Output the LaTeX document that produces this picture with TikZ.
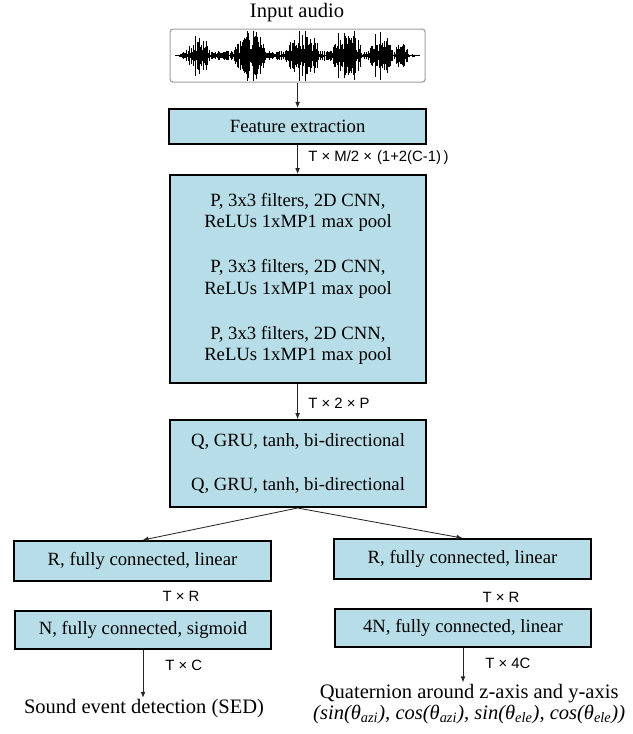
\documentclass[tikz,border=0pt]{standalone}
\usepackage{fontspec}
\setmainfont{Liberation Serif}
\setsansfont{Liberation Sans}
\usetikzlibrary{arrows.meta, positioning}
\definecolor{layerBlue}{HTML}{B7DEE8}
\definecolor{waveGray}{gray}{0.62}

\begin{document}
\begin{tikzpicture}[
        x=1cm,
        y=1cm,
        layer/.style={
            draw=black,
            line width=1.3pt,
            fill=layerBlue,
            minimum width=6.4cm,
            inner sep=0pt,
            align=center,
            font=\fontsize{13.3}{15.3}\selectfont
        },
        waveBox/.style={draw=waveGray, line width=0.8pt, rounded corners=2pt, inner sep=0pt},
        flow/.style={line width=0.6pt, -{Latex[length=1.5mm, width=1.2mm]}, black!85},
        dimText/.style={font=\sffamily\fontsize{10.6}{12}\selectfont, inner sep=0pt},
        outText/.style={font=\fontsize{14.6}{15}\selectfont, align=center, inner sep=1pt},
        wave/.style={line width=0.35pt, black}
    ]
        \useasboundingbox (0,0) rectangle (15.825,-18.35);

        % input signal
        \node[outText] (inlabel) at (7.425,-0.31) {Input audio};
        \node[waveBox, minimum width=6.375cm, minimum height=1.325cm] (audio) at (7.44,-1.39) {};
        \pgfmathsetseed{11}
        \draw[wave, line width=0.8pt] (4.375,-1.39) -- (10.5,-1.39);
        \foreach \x in {176,176.4,...,419} {
            \pgfmathsetmacro{\env}{5*max(0,min(1,(\x-175)/10,(420-\x)/25))
                + 21*max(0,1-((\x-198)/12)^2) + 24*max(0,1-((\x-250)/17)^2)
                + 26*max(0,1-((\x-303)/17)^2) + 25*max(0,1-((\x-347)/15)^2)
                + 21*max(0,1-((\x-381)/12)^2) + 9*max(0,1-((\x-402)/8)^2)}
            \pgfmathsetmacro{\amp}{0.025*min(25,max(0.8,\env*(0.15+0.85*rnd^2)))}
            \draw[wave] ({\x*0.025},{-1.39+\amp}) -- ({\x*0.025},{-1.39-\amp});
        }

        % feature extraction and CNN
        \node[layer, minimum width=6.425cm, minimum height=0.875cm] (feature) at (7.44,-3.16)
            {Feature extraction};
        \draw[flow] (audio.south) -- (feature.north);

        \node[layer, minimum height=5.2cm] (cnn) at (7.45,-6.975)
            {P, 3x3 filters, 2D CNN,\\
             ReLUs 1xMP1 max pool\\[16.7pt]
             P, 3x3 filters, 2D CNN,\\
             ReLUs 1xMP1 max pool\\[16.7pt]
             P, 3x3 filters, 2D CNN,\\
             ReLUs 1xMP1 max pool};
        \draw[flow] (feature.south) -- (feature.south |- cnn.north);
        \node[dimText, anchor=west] (featdim) at (7.7,-3.95)
            {T × M/2 ×\,\,(1+2(C-1)\,)};

        % recurrent layers
        \node[layer, minimum height=2.175cm] (gru) at (7.45,-11.59)
            {Q, GRU, tanh, bi-directional\\[16pt]
             Q, GRU, tanh, bi-directional};
        \draw[flow] (cnn.south -| feature.south) -- (feature.south |- gru.north);
        \node[dimText, anchor=west] (cnndim) at (7.7,-10.075) {T × 2 × P};

        % SED branch
        \node[layer, minimum width=6.425cm, minimum height=1.0cm] (sedfc) at (3.5625,-14.025)
            {R, fully connected, linear};
        \node[dimText] (seddim) at (4.525,-14.9) {T × R};
        \node[layer, minimum height=0.95cm] (sedout) at (3.575,-15.75)
            {N, fully connected, sigmoid};
        \node[outText] (sed) at (3.6,-17.72) {Sound event detection (SED)};
        \draw[flow] (gru.south -| feature.south) -- (sedfc.north);
        \draw[flow] (sedout.south) -- (sedout.south |- sed.north);
        \node[dimText, anchor=west] (sedoutdim) at (4.125,-16.625) {T × C};

        % DOA branch
        \node[layer, minimum width=6.425cm, minimum height=1.0cm] (doafc) at (11.5625,-13.975)
            {R, fully connected, linear};
        \node[dimText] (doadim) at (12.525,-14.925) {T × R};
        \node[layer, minimum height=0.95cm] (doaout) at (11.575,-15.7)
            {4N, fully connected, linear};
        \node[outText] (quat) at (11.73,-17.6)
            {Quaternion around z-axis and y-axis\\
             \textit{(sin(θ\textsubscript{azi}), cos(θ\textsubscript{azi}), sin(θ\textsubscript{ele}), cos(θ\textsubscript{ele}))}};
        \draw[flow] (gru.south -| feature.south) -- (doafc.north);
        \draw[flow] (doaout.south) -- (doaout.south |- quat.north);
        \node[dimText, anchor=west] (doaoutdim) at (12.125,-16.575) {T × 4C};
    \end{tikzpicture}
\end{document}
